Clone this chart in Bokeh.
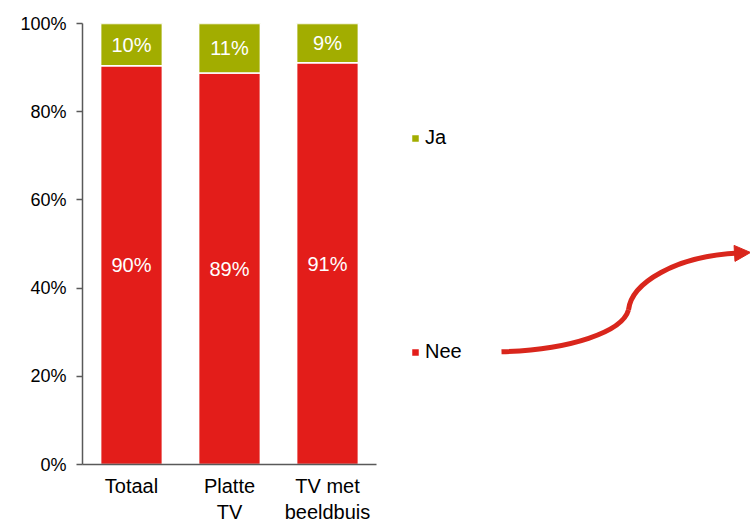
from bokeh.plotting import figure
from bokeh.models import (ColumnDataSource, Range1d, FixedTicker, PrintfTickFormatter,
                          Legend, LegendItem, Arrow, NormalHead)
from bokeh.core.properties import value
from bokeh.embed import file_html
from bokeh.resources import INLINE

categories = ["Totaal", "Platte\nTV", "TV met\nbeeldbuis"]
nee = [90.4, 88.8, 91.1]
ja = [round(100 - v, 1) for v in nee]
y_ticks = [0, 20, 40, 60, 80, 100]

RED = "#E31D1A"
GREEN = "#A2AD00"
FONT = "Liberation Sans"
FS = "18px"

xs = [i + 0.5 for i in range(len(categories))]
src = ColumnDataSource(dict(
    x=xs, nee=nee, ja=ja,
    nee_top=nee, ja_top=[a + b for a, b in zip(nee, ja)],
    nee_mid=[v / 2 for v in nee],
    ja_mid=[a + b / 2 for a, b in zip(nee, ja)],
    nee_lbl=[f"{round(v)}%" for v in nee],
    ja_lbl=[f"{round(v)}%" for v in ja],
))

W, H = 750, 525
LEFT = 82
frame_w = W - LEFT
p = figure(width=W, height=H, output_backend="svg", toolbar_location=None,
           x_range=Range1d(0, frame_w / 98.0), y_range=Range1d(0, 100),
           min_border_left=LEFT, min_border_right=0, min_border_top=23, min_border_bottom=60)
p.outline_line_color = None
p.xgrid.visible = False
p.ygrid.visible = False

r_nee = p.vbar(x="x", bottom=0, top="nee_top", width=0.63, source=src,
               fill_color=RED, line_color="white", line_width=1.5)
r_ja = p.vbar(x="x", bottom="nee_top", top="ja_top", width=0.63, source=src,
              fill_color=GREEN, line_color="white", line_width=1.5)

p.text(x="x", y="nee_mid", text="nee_lbl", source=src, text_color="white",
       text_font=value(FONT), text_font_size="20px", text_align="center", text_baseline="middle")
p.text(x="x", y="ja_mid", text="ja_lbl", source=src, text_color="white",
       text_font=value(FONT), text_font_size="20px", text_align="center", text_baseline="middle")

# axes
p.xaxis.ticker = FixedTicker(ticks=xs)
p.xaxis.major_label_overrides = {x: c for x, c in zip(xs, categories)}
p.xaxis.bounds = (0, len(categories))
p.xaxis.major_tick_out = 0
p.xaxis.major_tick_in = 0
p.xaxis.minor_tick_line_color = None
p.xaxis.major_label_standoff = 10
p.yaxis.ticker = FixedTicker(ticks=y_ticks)
p.yaxis.formatter = PrintfTickFormatter(format="%d%%")
p.yaxis.major_tick_out = 6
p.yaxis.major_tick_in = 0
p.yaxis.minor_tick_line_color = None
p.yaxis.major_label_standoff = 10
for ax in (p.xaxis, p.yaxis):
    ax.axis_line_color = "#595959"
    ax.axis_line_width = 1.5
    ax.major_tick_line_color = "#595959"
    ax.major_tick_line_width = 1.5
    ax.major_label_text_font = FONT
    ax.major_label_text_color = "black"
p.yaxis.major_label_text_font_size = FS
p.xaxis.major_label_text_font_size = "20px"

# legends
def mk_legend(label, rend, loc):
    lg = Legend(items=[LegendItem(label=label, renderers=[rend])], location=loc,
                border_line_color=None, background_fill_alpha=0, padding=0, margin=0,
                glyph_width=10, glyph_height=10, label_standoff=5,
                label_text_font=FONT, label_text_font_size="20px", label_text_color="black")
    p.add_layout(lg)

mk_legend("Ja", r_ja, (328, 315))
mk_legend("Nee", r_nee, (328, 101))

# decorative curved arrow (screen px -> data)
def dx(px): return (px - 82) / 98.0
def dy(py): return (465 - py) / 442.0 * 100
p.bezier(x0=[dx(501), dx(628)], y0=[dy(352), dy(310)],
         x1=[dx(628), dx(738)], y1=[dy(310), dy(253)],
         cx0=[dx(570), dx(631)], cy0=[dy(350), dy(283)],
         cx1=[dx(622), dx(675)], cy1=[dy(332), dy(256)],
         line_color="#D9261C", line_width=5)
p.add_layout(Arrow(x_start=dx(736), y_start=dy(253.3), x_end=dx(750), y_end=dy(252.5),
                   line_color="#D9261C", line_width=5,
                   end=NormalHead(size=16, fill_color="#D9261C", line_color="#D9261C")))

open("out.html", "w").write(file_html(p, INLINE))
